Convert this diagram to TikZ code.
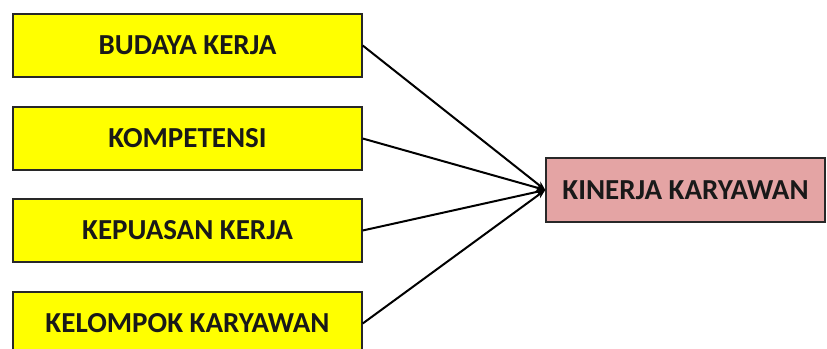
\documentclass[tikz,border=0pt]{standalone}
\usepackage{fontspec}
\setmainfont{Carlito}
\usetikzlibrary{arrows.meta}
\definecolor{boxyellow}{RGB}{255,255,0}
\definecolor{boxpink}{RGB}{228,164,164}
\definecolor{edgegray}{RGB}{40,40,40}
\tikzset{
  varbox/.style={draw=edgegray, line width=1.4pt, fill=boxyellow, minimum width=349pt, minimum height=63pt, inner sep=0pt, font=\fontsize{29}{33}\selectfont\bfseries, text=black!90},
  resbox/.style={varbox, fill=boxpink, minimum width=279pt, minimum height=64pt},
  link/.style={line width=2pt, black, -{Stealth[length=9pt,width=7pt]}}
}
\begin{document}
\begin{tikzpicture}[x=1pt,y=-1pt]
\useasboundingbox (0,0) rectangle (827,348);
\clip (0,0) rectangle (827,348);
\node[varbox] (b1) at (187.5,45.5) {BUDAYA KERJA};
\node[varbox] (b2) at (187.5,138.5) {KOMPETENSI};
\node[varbox] (b3) at (187.5,230.5) {KEPUASAN KERJA};
\node[varbox] (b4) at (187.5,323.5) {KELOMPOK KARYAWAN};
\node[resbox] (k) at (685.5,190) {KINERJA KARYAWAN};
\draw[link] (b1.east) -- (k.west);
\draw[link] (b2.east) -- (k.west);
\draw[link] (b3.east) -- (k.west);
\draw[link] (b4.east) -- (k.west);
\end{tikzpicture}
\end{document}
